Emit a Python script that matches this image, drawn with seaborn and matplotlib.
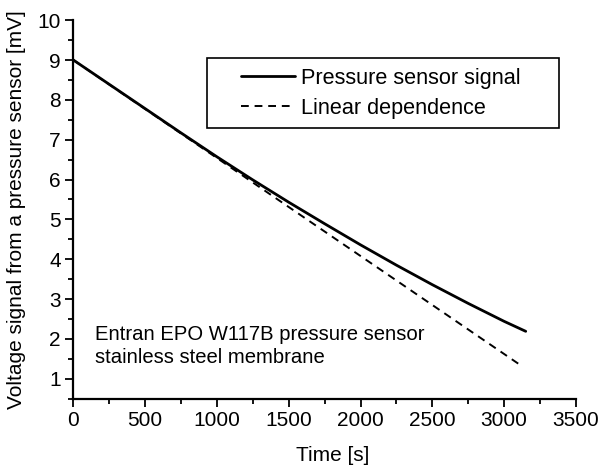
import numpy as np
import pandas as pd
import matplotlib
matplotlib.use("Agg")
import matplotlib.pyplot as plt
from matplotlib.patches import Rectangle
from matplotlib.ticker import MultipleLocator
import seaborn as sns

# data
time_s = [0, 250, 500, 750, 1000, 1250, 1500, 1750, 2000, 2250, 2500, 2750, 3000, 3150]
signal_mv = [9.00, 8.39, 7.78, 7.17, 6.57, 5.99, 5.43, 4.89, 4.36, 3.85, 3.36, 2.89, 2.44, 2.19]
lin_time = [0, 3130]
lin_mv = [9.00, 1.30]

sns.set_theme(style="ticks")
plt.rcParams['font.family'] = ['Liberation Sans', 'DejaVu Sans']
plt.rcParams['text.color'] = 'black'
plt.rcParams['axes.labelcolor'] = 'black'
fs = 15

sensor = pd.DataFrame({"t": time_s, "v": signal_mv})
linear = pd.DataFrame({"t": lin_time, "v": lin_mv})

fig = plt.figure(figsize=(6.02, 4.69), dpi=100)
ax = fig.add_axes([0.1218, 0.150, 0.835, 0.807])

sns.lineplot(data=sensor, x="t", y="v", ax=ax, color="black", lw=2.0,
             label="Pressure sensor signal")
sns.lineplot(data=linear, x="t", y="v", ax=ax, color="black", lw=1.4,
             linestyle=(0, (4, 3)), label="Linear dependence")

ax.set_xlim(0, 3500)
ax.set_ylim(0.5, 10)
ax.xaxis.set_major_locator(MultipleLocator(500))
ax.xaxis.set_minor_locator(MultipleLocator(250))
ax.yaxis.set_minor_locator(MultipleLocator(0.5))
ax.set_yticks(range(1, 11))
ax.tick_params(which="major", direction="out", length=6, width=1.3, labelsize=fs,
               colors="black", pad=3)
ax.tick_params(which="minor", direction="out", length=3.5, width=1.3, colors="black")
for s in ["top", "right"]:
    ax.spines[s].set_visible(False)
for s in ["left", "bottom"]:
    ax.spines[s].set_linewidth(1.6)
    ax.spines[s].set_color("black")

ax.set_xlabel("Time [s]", fontsize=fs)
ax.xaxis.set_label_coords(0.515, -0.125)
ax.set_ylabel("Voltage signal from a pressure sensor [mV]", fontsize=fs, labelpad=8)

ax.text(150, 2.35, "Entran EPO W117B pressure sensor\nstainless steel membrane",
        fontsize=14.6, va="top", ha="left", linespacing=1.3)

# legend without its own frame, box drawn separately (wide left padding in ref)
leg = ax.legend(loc="upper left", bbox_to_anchor=(0.3336, 0.874),
                frameon=False, fontsize=15.6, handlelength=2.5, handletextpad=0.25,
                labelspacing=0.4, borderpad=0, borderaxespad=0)
ax.add_patch(Rectangle((0.265, 0.716), 0.702, 0.184, transform=ax.transAxes,
                       fill=False, edgecolor="black", lw=1.2, zorder=5))

fig.savefig("out.png", dpi=100)
